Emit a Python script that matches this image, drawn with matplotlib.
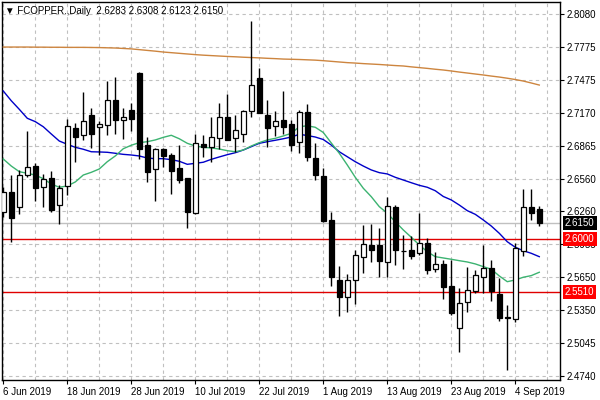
import matplotlib
matplotlib.use("Agg")
import matplotlib.pyplot as plt
import matplotlib.transforms as mtransforms

# daily bars, 6 Jun 2019 .. 9 Sep 2019
opens = [2.6254, 2.6434, 2.6295, 2.6596, 2.6674, 2.6480, 2.6566, 2.6314, 2.6492, 2.7025,
         2.6960, 2.7145, 2.7034, 2.7052, 2.7286, 2.7104, 2.7194, 2.7538, 2.6870, 2.6646,
         2.6831, 2.6778, 2.6658, 2.6566, 2.6245, 2.6880, 2.6855, 2.6938, 2.7126, 2.6932,
         2.6972, 2.7182, 2.7489, 2.7145, 2.7049, 2.7101, 2.7064, 2.6895, 2.7175, 2.6750,
         2.6584, 2.6178, 2.5621, 2.5464, 2.5621, 2.5833, 2.5947, 2.5947, 2.5787, 2.6295,
         2.5894, 2.5901, 2.5870, 2.5963, 2.5728, 2.5769, 2.5568, 2.5178, 2.5418, 2.5519,
         2.5649, 2.5732, 2.5495, 2.5285, 2.5261, 2.5892, 2.6295, 2.6283]
highs = [2.6485, 2.6593, 2.6640, 2.7002, 2.6701, 2.6603, 2.6630, 2.6504, 2.7108, 2.7076,
         2.7360, 2.7209, 2.7095, 2.7461, 2.7501, 2.7209, 2.7258, 2.7544, 2.6947, 2.6840,
         2.6840, 2.6794, 2.6870, 2.6570, 2.6972, 2.6963, 2.7126, 2.7258, 2.7341, 2.7145,
         2.7194, 2.8015, 2.7579, 2.7286, 2.7184, 2.7369, 2.7101, 2.7194, 2.7249, 2.6886,
         2.6655, 2.6254, 2.5753, 2.5676, 2.5901, 2.6129, 2.6138, 2.6107, 2.6390, 2.6319,
         2.6039, 2.6030, 2.6245, 2.6014, 2.5882, 2.5808, 2.5808, 2.5547, 2.5741, 2.5716,
         2.5944, 2.5808, 2.5640, 2.5393, 2.5963, 2.6464, 2.6464, 2.6308]
lows = [2.6203, 2.5977, 2.6233, 2.6578, 2.6356, 2.6301, 2.6254, 2.6138, 2.6411, 2.6716,
        2.6917, 2.6840, 2.6778, 2.6963, 2.6972, 2.6926, 2.7000, 2.6741, 2.6531, 2.6356,
        2.6670, 2.6418, 2.6522, 2.6101, 2.6230, 2.6762, 2.6711, 2.6833, 2.6912, 2.6808,
        2.6895, 2.7132, 2.7163, 2.6855, 2.6954, 2.6972, 2.6818, 2.6799, 2.6725, 2.6550,
        2.6159, 2.5571, 2.5294, 2.5326, 2.5399, 2.5691, 2.5793, 2.5654, 2.5654, 2.5765,
        2.5723, 2.5818, 2.5855, 2.5676, 2.5700, 2.5448, 2.5301, 2.4962, 2.5331, 2.5506,
        2.5501, 2.5433, 2.5248, 2.4793, 2.5239, 2.5845, 2.6178, 2.6123]
closes = [2.6439, 2.6194, 2.6591, 2.6664, 2.6471, 2.6556, 2.6273, 2.6476, 2.7043, 2.6941,
          2.7089, 2.6975, 2.7062, 2.7283, 2.7101, 2.7126, 2.7110, 2.6833, 2.6624, 2.6831,
          2.6769, 2.6633, 2.6550, 2.6254, 2.6886, 2.6849, 2.6941, 2.7126, 2.6919, 2.7006,
          2.7184, 2.7422, 2.7169, 2.7030, 2.7092, 2.7039, 2.6873, 2.7175, 2.6762, 2.6596,
          2.6169, 2.5649, 2.5464, 2.5621, 2.5852, 2.5956, 2.5898, 2.5802, 2.6304, 2.5904,
          2.5892, 2.5848, 2.5963, 2.5716, 2.5769, 2.5562, 2.5322, 2.5409, 2.5529, 2.5667,
          2.5735, 2.5525, 2.5270, 2.5270, 2.5922, 2.6295, 2.6245, 2.6150]

ma_blue = [2.7369, 2.7279, 2.7200, 2.7117, 2.7086, 2.7039, 2.6972, 2.6907, 2.6877, 2.6849,
           2.6831, 2.6808, 2.6806, 2.6803, 2.6794, 2.6784, 2.6778, 2.6769, 2.6750, 2.6744,
           2.6744, 2.6735, 2.6720, 2.6692, 2.6701, 2.6711, 2.6738, 2.6760, 2.6781, 2.6799,
           2.6824, 2.6855, 2.6886, 2.6901, 2.6914, 2.6928, 2.6944, 2.6969, 2.6958, 2.6944,
           2.6921, 2.6870, 2.6808, 2.6762, 2.6716, 2.6676, 2.6640, 2.6615, 2.6603, 2.6572,
           2.6547, 2.6522, 2.6498, 2.6480, 2.6448, 2.6395, 2.6363, 2.6316, 2.6264, 2.6230,
           2.6178, 2.6122, 2.6055, 2.5977, 2.5926, 2.5894, 2.5870, 2.5839]
ma_green = [2.6741, 2.6676, 2.6624, 2.6609, 2.6593, 2.6559, 2.6510, 2.6480, 2.6492, 2.6529,
            2.6593, 2.6618, 2.6649, 2.6716, 2.6769, 2.6836, 2.6868, 2.6892, 2.6901, 2.6917,
            2.6941, 2.6960, 2.6928, 2.6886, 2.6861, 2.6849, 2.6843, 2.6833, 2.6818, 2.6808,
            2.6824, 2.6861, 2.6892, 2.6917, 2.6932, 2.6954, 2.6978, 2.7039, 2.7048, 2.7034,
            2.6986, 2.6889, 2.6794, 2.6686, 2.6572, 2.6471, 2.6393, 2.6301, 2.6240, 2.6162,
            2.6086, 2.6018, 2.5947, 2.5885, 2.5839, 2.5827, 2.5815, 2.5802, 2.5790, 2.5772,
            2.5747, 2.5723, 2.5661, 2.5608, 2.5624, 2.5649, 2.5664, 2.5695]
ma_orange = [2.7775, 2.7775, 2.7775, 2.7775, 2.7774, 2.7774, 2.7773, 2.7773, 2.7772, 2.7772,
             2.7772, 2.7771, 2.7770, 2.7768, 2.7766, 2.7762, 2.7758, 2.7751, 2.7744, 2.7737,
             2.7729, 2.7723, 2.7717, 2.7711, 2.7705, 2.7700, 2.7696, 2.7692, 2.7688, 2.7685,
             2.7681, 2.7678, 2.7675, 2.7671, 2.7668, 2.7664, 2.7662, 2.7660, 2.7657, 2.7654,
             2.7649, 2.7643, 2.7637, 2.7631, 2.7627, 2.7622, 2.7618, 2.7614, 2.7609, 2.7604,
             2.7600, 2.7592, 2.7585, 2.7578, 2.7570, 2.7563, 2.7554, 2.7544, 2.7535, 2.7526,
             2.7517, 2.7507, 2.7498, 2.7487, 2.7475, 2.7461, 2.7443, 2.7424]

date_ticks = [0, 8, 16, 24, 32, 40, 48, 56, 64]
date_labels = ["6 Jun 2019", "18 Jun 2019", "28 Jun 2019", "10 Jul 2019", "22 Jul 2019",
               "1 Aug 2019", "13 Aug 2019", "23 Aug 2019", "4 Sep 2019"]
price_ticks = [2.8080, 2.7775, 2.7475, 2.7170, 2.6865, 2.6560, 2.6260, 2.5955,
               2.5650, 2.5350, 2.5045, 2.4740]
last_price = 2.6150
red_levels = [2.6000, 2.5510]

fig = plt.figure(figsize=(6, 4), dpi=100)
ax = fig.add_axes([2 / 600, 20 / 400, 558 / 600, 378 / 400])
fig.patch.set_facecolor("white")

n = len(opens)
ax.set_xlim(-0.16, 69.59)
ax.set_ylim(2.4700, 2.8191)

# grid
ax.set_xticks(date_ticks)
ax.set_xticks(range(0, 70, 4), minor=True)
ax.set_yticks(price_ticks)
ax.grid(True, which="both", axis="x", color="#c0c0c0", ls=(0, (3, 3)), lw=0.8)
ax.grid(True, which="major", axis="y", color="#c0c0c0", ls=(0, (3, 3)), lw=0.8)
ax.set_axisbelow(True)

# level lines
ax.axhline(last_price, color="#c0c0c0", lw=1, zorder=2)
for lv in red_levels:
    ax.axhline(lv, color="#e00000", lw=1, zorder=2)

# moving averages
xs = list(range(n))
ax.plot(xs, ma_orange, color="#cd853f", lw=1, zorder=2.6)
ax.plot(xs, ma_blue, color="#0000c8", lw=1, zorder=2.6)
ax.plot(xs, ma_green, color="#3cb371", lw=1, zorder=2.6)

# candles
for i in xs:
    o, h, l, c = opens[i], highs[i], lows[i], closes[i]
    ax.vlines(i, l, h, color="black", lw=1, zorder=3)
    up = c >= o
    ax.bar(i, abs(c - o), bottom=min(o, c), width=0.56,
           facecolor="white" if up else "black", edgecolor="black", lw=0.9, zorder=4)

# axes styling
for s in ax.spines.values():
    s.set_color("black")
    s.set_linewidth(1)
ax.yaxis.tick_right()
ax.tick_params(axis="y", length=3, pad=2, labelsize=7, colors="black")
ax.tick_params(axis="x", which="major", length=3, pad=2, labelsize=7)
ax.tick_params(axis="x", which="minor", length=0)
ax.set_xticklabels(date_labels)
for lbl in ax.get_xticklabels():
    lbl.set_ha("left")
ax.set_yticklabels([f"{v:.4f}" for v in price_ticks])
for lbl in ax.get_yticklabels() + ax.get_xticklabels():
    lbl.set_family(["Liberation Sans", "DejaVu Sans"])

# price boxes on the right scale
trans = mtransforms.blended_transform_factory(ax.transAxes, ax.transData)
boxes = [(last_price, "black")] + [(lv, "#ff0000") for lv in red_levels]
for val, col in boxes:
    ax.text(1 + 5 / 558, val, f"{val:.4f}", transform=trans, color="white", fontsize=7,
            family=["Liberation Sans", "DejaVu Sans"], va="center", ha="left",
            bbox=dict(boxstyle="square,pad=0.2", fc=col, ec="none"),
            zorder=6, clip_on=False)

# header
fig.text(5 / 600, 1 - 11 / 400,
         "\u25bc FCOPPER.,Daily  2.6283 2.6308 2.6123 2.6150",
         fontsize=7, va="center", ha="left", family=["Liberation Sans", "DejaVu Sans"])

fig.savefig("out.png", dpi=100)
